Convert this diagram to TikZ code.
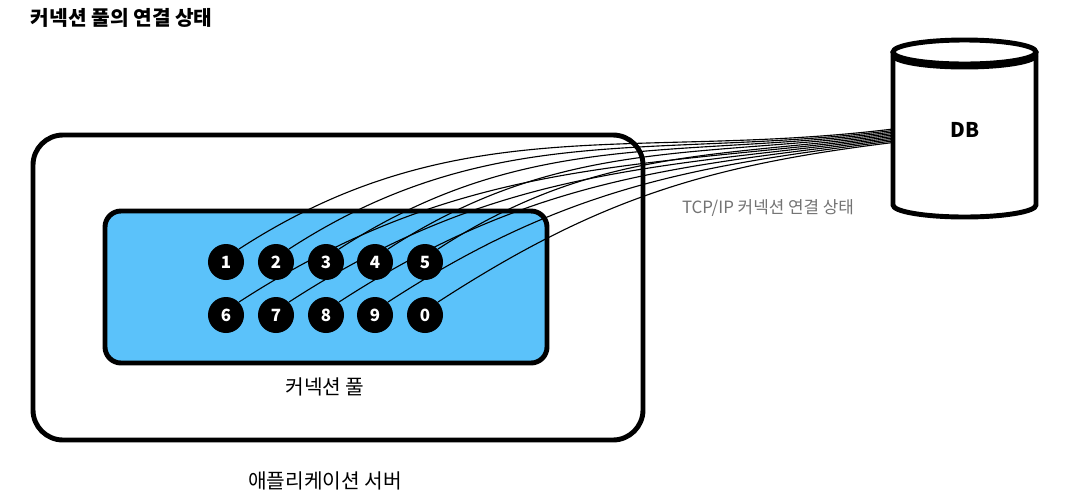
\documentclass[tikz,border=0pt]{standalone}
\usepackage{fontspec}
\setmainfont{Noto Sans CJK KR}
\usepackage{tikz}
\usetikzlibrary{positioning}

\begin{document}
\begin{tikzpicture}[x=0.025cm, y=-0.025cm,
        conn/.style={circle, fill=black, text=white, font=\bfseries\large, inner sep=0pt, minimum size=0.9cm},
        link/.style={black, line width=0.8pt},
        box/.style={draw=black, line width=3.5pt, rounded corners=0.75cm}
      ]
        \useasboundingbox (0,0) rectangle (1066,502);
        \definecolor{poolblue}{HTML}{5BC2FA}

        % title
        \node[anchor=west, font=\bfseries\Large] (title) at (26,18) {커넥션 풀의 연결 상태};

        % application server and pool
        \draw[box] (33,135) rectangle (643,440);
        \draw[box, fill=poolblue, rounded corners=0.4cm] (105,211) rectangle (547,363);
        \node[font=\Large] (poollabel) at (325,387) {커넥션 풀};
        \node[font=\Large] (serverlabel) at (325,481) {애플리케이션 서버};

        % DB cylinder
        \draw[line width=3.5pt, fill=white] (893,52) -- (893,205) arc[start angle=180, end angle=0, x radius=71.5, y radius=12] -- (1036,52);
        \draw[line width=3.5pt, fill=white] (964.5,52) ellipse[x radius=71.5, y radius=12];
        \draw[line width=3.5pt] (893,55) arc[start angle=180, end angle=0, x radius=71.5, y radius=12];
        \node[font=\bfseries\Large] (db) at (965,130) {DB};
        \node[text=black!55, font=\large] (tcp) at (768,208) {TCP/IP 커넥션 연결 상태};

        % connections
        \foreach \n/\x/\y/\ey in {1/226/262/129, 2/276/262/130.5, 3/326/262/132, 4/375/262/133.5, 5/425/262/135,
                                  6/226/315/136.5, 7/276/315/138, 8/326/315/139.5, 9/375/315/141, 0/425/315/142.5} {
          \node[conn] (c\n) at (\x,\y) {\n};
          \coordinate (end\n) at (893,\ey);
        }
        \foreach \n in {1,...,9,0} {
          \draw[link] (c\n.north east) to[out=33, in=187] (end\n);
        }
      \end{tikzpicture}
\end{document}
